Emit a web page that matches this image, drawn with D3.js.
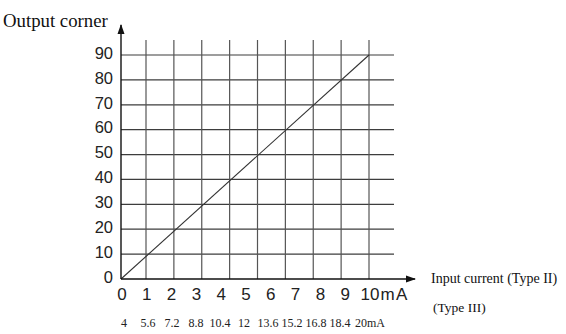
<!DOCTYPE html>
<html>
<head>
<meta charset="utf-8">
<script src="https://cdn.jsdelivr.net/npm/d3@7"></script>
<style>
  html, body { margin: 0; padding: 0; background: #fff; }
  svg { display: block; }
</style>
</head>
<body>
<svg id="chart" width="566" height="334"></svg>
<script>
// ---- data ----
const angleTicks = [0, 10, 20, 30, 40, 50, 60, 70, 80, 90];          // output corner (degrees)
const currentTicks = [0, 1, 2, 3, 4, 5, 6, 7, 8, 9, 10];             // Type II input current (mA)
const typeIIITicks = [4, 5.6, 7.2, 8.8, 10.4, 12, 13.6, 15.2, 16.8, 18.4, 20]; // Type III (mA)
const lineAngleX = [0, 90];   // characteristic line: grid position (deg equivalent)
const lineAngleY = [0, 90];   // output angle
const yTitle = "Output corner";
const xTitle = "Input current (Type II)";
const x2Title = "(Type III)";

// ---- scales ----
const svg = d3.select("#chart");
const y = d3.scaleLinear().domain([0, 90]).range([279, 55]);
const gx = d3.scaleLinear().domain([0, 10, 90]).range([121, 146, 369]); // grid columns
const xI = d3.scaleLinear().domain([0, 10]).range([122, 370]);          // Type II labels
const x3 = d3.scaleLinear().domain([4, 20]).range([124, 364]);          // Type III labels

const gridColor = "#3d3d3d";
const g = svg.append("g");

// horizontal grid lines
g.selectAll("line.h").data(angleTicks.filter(d => d > 0)).enter().append("line")
  .attr("x1", gx(0)).attr("x2", 394)
  .attr("y1", d => y(d)).attr("y2", d => y(d))
  .attr("stroke", gridColor).attr("stroke-width", 1.2);

// vertical grid lines
g.selectAll("line.v").data(angleTicks.filter(d => d > 0)).enter().append("line")
  .attr("x1", d => gx(d)).attr("x2", d => gx(d))
  .attr("y1", 40).attr("y2", y(0))
  .attr("stroke", "#555").attr("stroke-width", 1.2);

// characteristic line
const pts = lineAngleX.map((v, i) => [gx(v), y(lineAngleY[i])]);
g.append("path").attr("d", d3.line()(pts))
  .attr("fill", "none").attr("stroke", "#333").attr("stroke-width", 1.1);

// axes with arrows
svg.append("defs").append("marker")
  .attr("id", "arr").attr("viewBox", "0 0 10 10").attr("refX", 9).attr("refY", 5)
  .attr("markerWidth", 10).attr("markerHeight", 10).attr("markerUnits", "userSpaceOnUse")
  .attr("orient", "auto")
  .append("path").attr("d", "M0,1.5 L10,5 L0,8.5 Z").attr("fill", "#111");

svg.append("line").attr("x1", gx(0)).attr("x2", 415).attr("y1", y(0)).attr("y2", y(0))
  .attr("stroke", "#111").attr("stroke-width", 1.4).attr("marker-end", "url(#arr)");
svg.append("line").attr("x1", gx(0)).attr("x2", gx(0)).attr("y1", y(0)).attr("y2", 25)
  .attr("stroke", "#111").attr("stroke-width", 1.4).attr("marker-end", "url(#arr)");

// y tick labels
svg.selectAll("text.yl").data(angleTicks).enter().append("text")
  .attr("x", 113).attr("y", d => y(d) - 2).attr("dy", "0.35em")
  .attr("text-anchor", "end")
  .style("font-family", "'Liberation Sans', Arial, sans-serif").style("font-size", "16.5px")
  .attr("fill", "#222")
  .text(d => d);

// x tick labels (Type II)
const xl = svg.selectAll("text.xl").data(currentTicks).enter().append("text")
  .attr("y", 300)
  .style("font-family", "'Liberation Sans', Arial, sans-serif").style("font-size", "17px")
  .attr("fill", "#222");
xl.each(function(d, i) {
  const t = d3.select(this);
  if (i === currentTicks.length - 1) {
    t.attr("x", xI(d) - 9.5).attr("text-anchor", "start");
    t.append("tspan").text(d);
    t.append("tspan").attr("dx", 1).style("letter-spacing", "1.5px").text("mA");
  } else {
    t.attr("x", xI(d)).attr("text-anchor", "middle").text(d);
  }
});

// Type III labels
const x3l = svg.selectAll("text.x3").data(typeIIITicks).enter().append("text")
  .attr("y", 327)
  .style("font-family", "'Liberation Serif', 'Times New Roman', serif").style("font-size", "12px")
  .attr("fill", "#222");
x3l.each(function(d, i) {
  const t = d3.select(this);
  if (i === typeIIITicks.length - 1) {
    t.attr("x", x3(d) - 9).attr("text-anchor", "start").text(d + "mA");
  } else {
    t.attr("x", x3(d)).attr("text-anchor", "middle").text(d);
  }
});

// titles
svg.append("text").attr("x", 3).attr("y", 27)
  .style("font-family", "'Liberation Serif', 'Times New Roman', serif").style("font-size", "18.8px")
  .attr("fill", "#111").text(yTitle);
svg.append("text").attr("x", 431).attr("y", 283)
  .style("font-family", "'Liberation Serif', 'Times New Roman', serif").style("font-size", "14px")
  .attr("fill", "#111").text(xTitle);
svg.append("text").attr("x", 433).attr("y", 311.5)
  .style("font-family", "'Liberation Serif', 'Times New Roman', serif").style("font-size", "13.5px")
  .attr("fill", "#111").text(x2Title);
</script>
</body>
</html>
